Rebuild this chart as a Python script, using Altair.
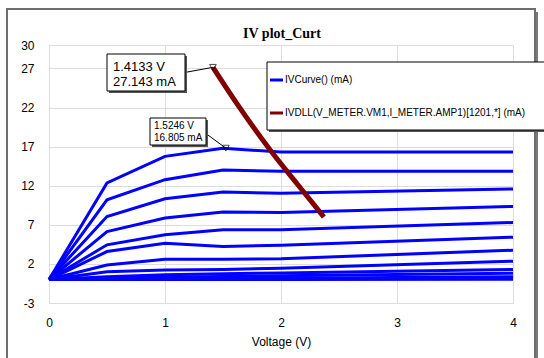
import altair as alt
import pandas as pd

# ---------------- data ----------------
VOLTS = [0.0, 0.5, 1.0, 1.5, 2.0, 4.0]
CURVES = [
    [0, 12.35, 15.76, 16.805, 16.30, 16.30],
    [0, 10.20, 12.77, 14.00, 13.85, 13.85],
    [0, 8.07, 10.33, 11.19, 11.05, 11.58],
    [0, 6.14, 7.86, 8.63, 8.58, 9.35],
    [0, 4.44, 5.72, 6.36, 6.36, 7.30],
    [0, 3.58, 4.65, 4.22, 4.40, 5.42],
    [0, 1.87, 2.60, 2.60, 2.66, 3.75],
    [0, 1.01, 1.23, 1.30, 1.45, 2.35],
    [0, 0.37, 0.60, 0.75, 0.85, 1.30],
    [0, 0.15, 0.30, 0.40, 0.50, 0.80],
    [0, 0.04, 0.08, 0.12, 0.15, 0.35],
    [0, 0.00, 0.00, 0.00, 0.00, 0.05],
]
DLL_V = [1.4133, 1.62, 1.905, 2.147, 2.37]
DLL_I = [27.143, 22.5, 16.6, 12.1, 8.0]
SERIES = ["IVCurve() (mA)", "IVDLL(V_METER.VM1,I_METER.AMP1)[1201,*] (mA)"]
COLORS = ["#0000ff", "#800000"]
MARK_V = [1.4133, 1.5246]
MARK_I = [27.143, 16.805]
X_TICKS = [0, 1, 2, 3, 4]
Y_TICKS = [-3, 2, 7, 12, 17, 22, 27, 30]
TITLE = "IV plot_Curt"
X_TITLE = "Voltage (V)"

# leader-line start points (box edges) in data units -- layout only
LEADER_FROM = [(1.1724, 26.49), (1.3534, 18.67)]

FONT = "Liberation Sans"

rows = []
for k, c in enumerate(CURVES):
    for v, i in zip(VOLTS, c):
        rows.append({"curve": k, "v": v, "i": i, "series": SERIES[0]})
iv = pd.DataFrame(rows)
dll = pd.DataFrame({"v": DLL_V, "i": DLL_I, "series": SERIES[1], "curve": 99})
markers = pd.DataFrame({"v": MARK_V, "i": MARK_I})
lead_rows = []
for k, ((sv, si), mv, mi) in enumerate(zip(LEADER_FROM, MARK_V, MARK_I)):
    lead_rows.append({"k": k, "o": 0, "v": sv, "i": si})
    lead_rows.append({"k": k, "o": 1, "v": mv, "i": mi})
leaders = pd.DataFrame(lead_rows)
one = pd.DataFrame({"a": [0]})

xs = alt.Scale(domain=[0, 4], nice=False, zero=False)
ys = alt.Scale(domain=[-3, 30], nice=False, zero=False)
xaxis = alt.Axis(values=X_TICKS, title=X_TITLE, grid=True, ticks=False, domain=False,
                 labelFlush=False, labelOverlap=False, labelPadding=14, titlePadding=8,
                 labelFontSize=12, titleFontSize=12, titleFontWeight="normal",
                 labelFont=FONT, titleFont=FONT, labelColor="black", titleColor="black")
yaxis = alt.Axis(values=Y_TICKS, title=None, grid=True, ticks=False, domain=False,
                 labelFlush=False, labelOverlap=False, labelPadding=15,
                 labelFontSize=12, labelFont=FONT, labelColor="black",
                 labelExpr="datum.value + ''")
X = alt.X("v:Q", scale=xs, axis=xaxis)
Y = alt.Y("i:Q", scale=ys, axis=yaxis)
color = alt.Color("series:N", scale=alt.Scale(domain=SERIES, range=COLORS), legend=None)

# outer frame with shadow
frame_shadow = alt.Chart(one).mark_rect(color="#7a7a7a").encode(
    x=alt.value(486), x2=alt.value(489), y=alt.value(-33), y2=alt.value(330))
frame = alt.Chart(one).mark_rect(filled=False, stroke="#6e6e6e", strokeWidth=2).encode(
    x=alt.value(-42), x2=alt.value(486), y=alt.value(-36), y2=alt.value(330))

title = alt.Chart(one).mark_text(
    align="center", baseline="alphabetic", font="Liberation Serif", fontSize=14,
    fontWeight="bold", color="black").encode(
    x=alt.value(233), y=alt.value(-7), text=alt.value(TITLE))

iv_lines = alt.Chart(iv).mark_line(strokeWidth=3).encode(
    x=X, y=Y, color=color, detail="curve:N", order="v:Q")
dll_line = alt.Chart(dll).mark_line(strokeWidth=5, interpolate="monotone").encode(
    x=X, y=Y, color=color, order="v:Q")

# legend (drawn manually)
leg_shadow = alt.Chart(one).mark_rect(color="#555555").encode(
    x=alt.value(220), x2=alt.value(520), y=alt.value(19), y2=alt.value(87))
leg_box = alt.Chart(one).mark_rect(fill="white", stroke="black", strokeWidth=1).encode(
    x=alt.value(218), x2=alt.value(520), y=alt.value(17), y2=alt.value(85))
leg_items = []
for k, ypix in enumerate([35, 68]):
    leg_items.append(alt.Chart(one).mark_rule(strokeWidth=3, color=COLORS[k]).encode(
        x=alt.value(221), x2=alt.value(234), y=alt.value(ypix)))
    leg_items.append(alt.Chart(one).mark_text(
        align="left", baseline="middle", font=FONT, fontSize=10, color="black").encode(
        x=alt.value(236), y=alt.value(ypix), text=alt.value(SERIES[k])))

# annotations
lead = alt.Chart(leaders).mark_line(color="black", strokeWidth=1).encode(
    x=X, y=Y, detail="k:N", order="o:Q")
tri = alt.Chart(markers).mark_point(shape="triangle-down", filled=False, color="black",
                                    size=45, strokeWidth=1).encode(x=X, y=Y)

ann_layers = []
boxes = [(58, 136, 9, 46, 13, [22, 37], 64), (101, 157, 73, 100, 10, [81, 93], 105)]
for k, (x1, x2, y1, y2, fs, tys, tx) in enumerate(boxes):
    ann_layers.append(alt.Chart(one).mark_rect(color="#555555").encode(
        x=alt.value(x1 + 2), x2=alt.value(x2 + 2), y=alt.value(y1 + 2), y2=alt.value(y2 + 2)))
    ann_layers.append(alt.Chart(one).mark_rect(fill="white", stroke="black", strokeWidth=1).encode(
        x=alt.value(x1), x2=alt.value(x2), y=alt.value(y1), y2=alt.value(y2)))
    lines = [f"{MARK_V[k]:.4f} V", f"{MARK_I[k]:.3f} mA"]
    for ty, s in zip(tys, lines):
        ann_layers.append(alt.Chart(one).mark_text(
            align="left", baseline="middle", font=FONT, fontSize=fs, color="black").encode(
            x=alt.value(tx), y=alt.value(ty), text=alt.value(s)))

chart = alt.layer(
    frame_shadow, frame, title, iv_lines, dll_line, leg_shadow, leg_box, *leg_items,
    lead, tri, *ann_layers
).properties(
    width=464, height=258,
    padding={"left": 49, "top": 45, "right": 31, "bottom": 55},
    autosize=alt.AutoSizeParams(type="none"),
).configure_view(
    stroke="black", strokeWidth=2
).configure_axis(
    gridColor="#c4c4c4", gridWidth=1.5
).configure(background="white")

chart.save("out.html", embed_options={"renderer": "svg", "actions": False})
